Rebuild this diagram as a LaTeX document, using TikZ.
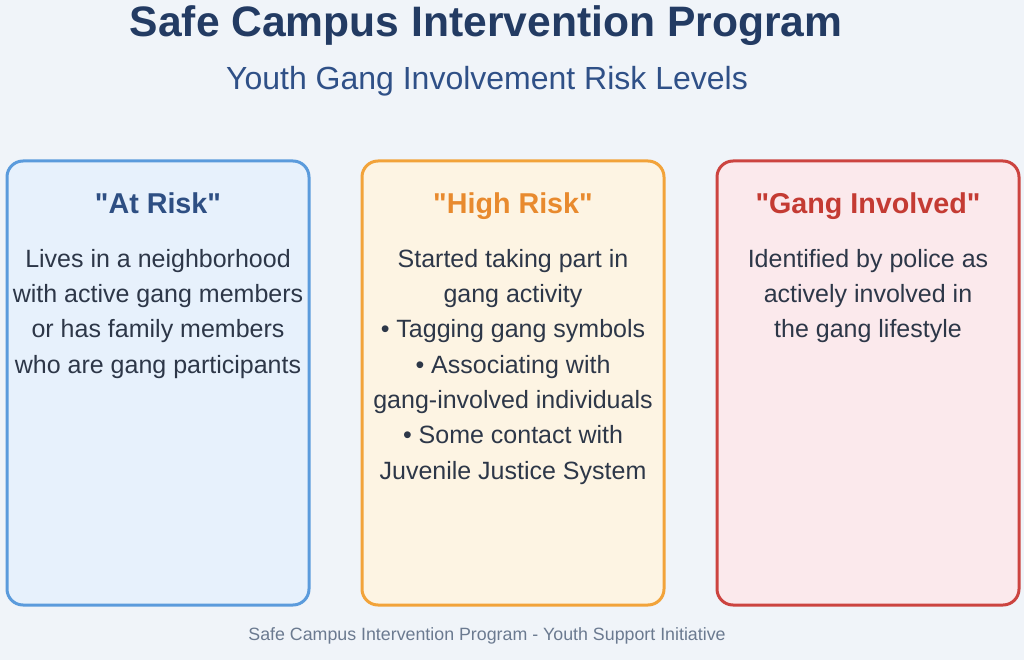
\documentclass[tikz,border=0pt]{standalone}
\usepackage{fontspec}
\setmainfont{Liberation Sans}[Ligatures=TeXOff]
\definecolor{bgc}{HTML}{F0F4F9}
\definecolor{titlec}{HTML}{233B63}
\definecolor{subc}{HTML}{2F5087}
\definecolor{bodyc}{HTML}{2D3748}
\definecolor{footc}{HTML}{6B7A90}
\definecolor{blueb}{HTML}{5B9BDC}
\definecolor{bluef}{HTML}{E7F1FC}
\definecolor{blueh}{HTML}{2E4F83}
\definecolor{orangeb}{HTML}{F2A33A}
\definecolor{orangef}{HTML}{FDF4E3}
\definecolor{orangeh}{HTML}{E88A2E}
\definecolor{redb}{HTML}{CC4440}
\definecolor{redf}{HTML}{FBE9EC}
\definecolor{redh}{HTML}{C43B33}
\begin{document}
\begin{tikzpicture}[x=1pt,y=-1pt,
  card/.style={line width=3pt,rounded corners=16pt},
  head/.style={anchor=base,inner sep=0pt,font=\fontsize{28.7}{34}\selectfont\bfseries},
  body/.style={anchor=north,inner sep=0pt,align=center,text=bodyc,font=\fontsize{25}{35.3}\selectfont}]
\fill[bgc] (0,0) rectangle (1024,660);
\useasboundingbox (0,0) rectangle (1024,660);
\node[anchor=base,inner sep=0pt,text=titlec,font=\fontsize{42.6}{50}\selectfont\bfseries] (title) at (486,37) {Safe Campus Intervention Program};
\node[anchor=base,inner sep=0pt,text=subc,font=\fontsize{32}{38}\selectfont] (subtitle) at (487,90) {Youth Gang Involvement Risk Levels};
\draw[card,draw=blueb,fill=bluef] (7,161) rectangle (309,605);
\draw[card,draw=orangeb,fill=orangef] (362,161) rectangle (664,605);
\draw[card,draw=redb,fill=redf] (717,161) rectangle (1019,605);
\node[head,text=blueh] (h1) at (158,214) {"At Risk"};
\node[head,text=orangeh] (h2) at (513,214) {"High Risk"};
\node[head,text=redh] (h3) at (868,214) {"Gang Involved"};
\node[body] (b1) at (158,249) {Lives in a neighborhood\\with active gang members\\or has family members\\who are gang participants};
\node[body] (b2) at (513,249) {Started taking part in\\gang activity\\• Tagging gang symbols\\• Associating with\\gang-involved individuals\\• Some contact with\\Juvenile Justice System};
\node[body] (b3) at (868,249) {Identified by police as\\actively involved in\\the gang lifestyle};
\node[anchor=base,inner sep=0pt,text=footc,font=\fontsize{17.8}{21}\selectfont] (foot) at (487,640) {Safe Campus Intervention Program - Youth Support Initiative};
\end{tikzpicture}
\end{document}
